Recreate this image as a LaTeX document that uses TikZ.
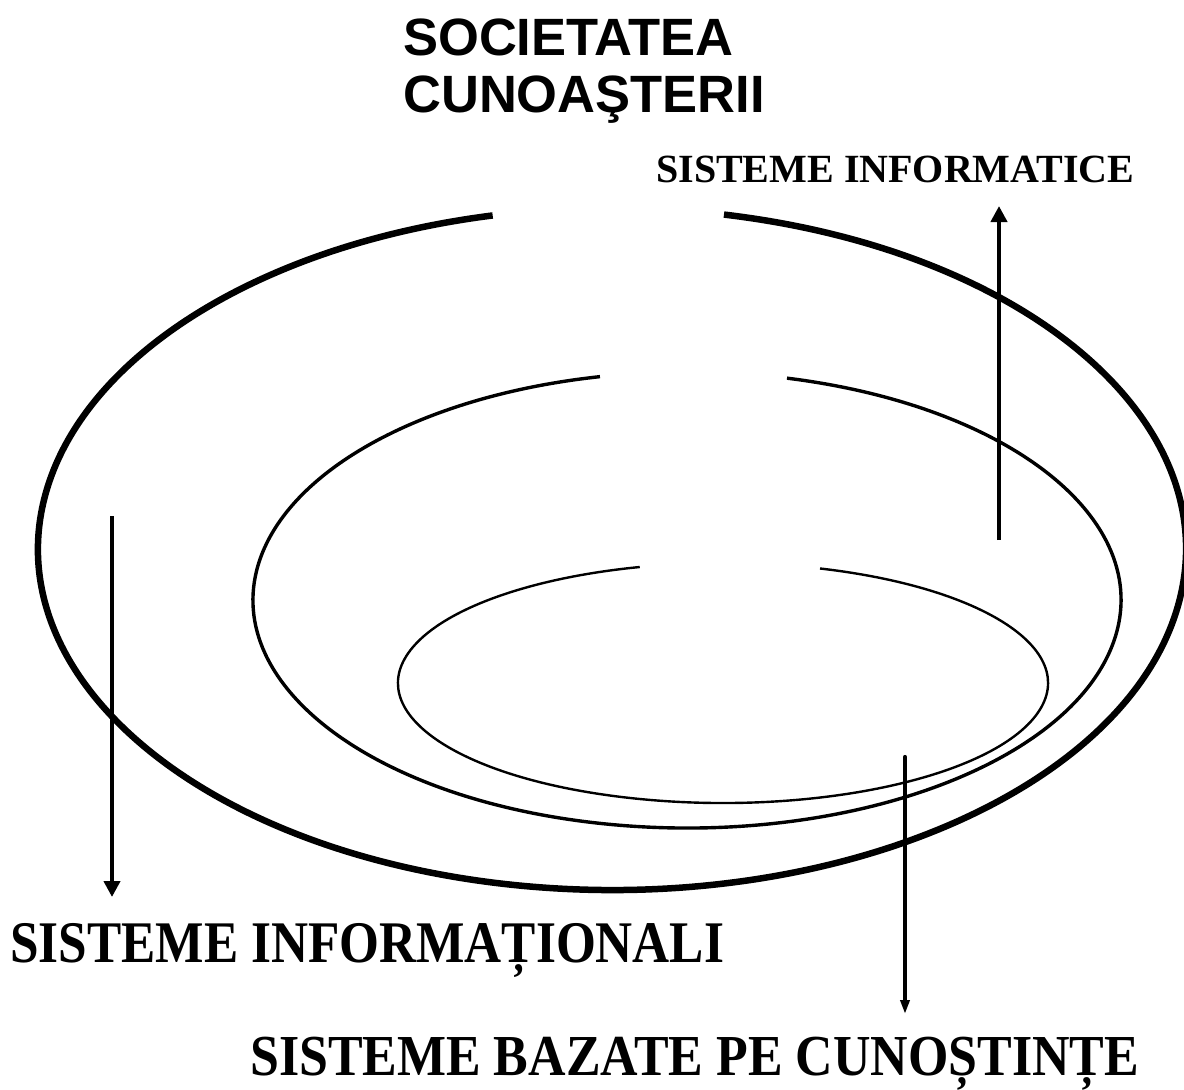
\documentclass[tikz,border=0pt]{standalone}
\usepackage{fontspec}
\newfontfamily\hsans{Liberation Sans}
\newfontfamily\tserif{Liberation Serif}
\usetikzlibrary{arrows.meta}
\begin{document}
\begin{tikzpicture}[x=1pt,y=-1pt,
  ringA/.style={line width=6.5pt},
  ringB/.style={line width=3.4pt},
  ringC/.style={line width=2.4pt},
  arr/.style={line width=4.2pt, -{Triangle[width=16pt,length=16pt]}},
  arrthin/.style={line width=4.2pt, line cap=round, -{Triangle[width=9pt,length=14pt]}},
  lbl/.style={inner sep=0pt, anchor=base west}]
\useasboundingbox (0,0) rectangle (1184,1090);

% rings (open at the top)
\draw[ringA] (612,549) ++(-78.75:574 and 341)
  arc[start angle=-78.75, end angle=258, x radius=574, y radius=341];
\draw[ringB] (687,600) ++(-76.68:434 and 228)
  arc[start angle=-76.68, end angle=258.43, x radius=434, y radius=228];
\draw[ringC] (723,683) ++(-72.63:325 and 120)
  arc[start angle=-72.63, end angle=255.16, x radius=325, y radius=120];

% labels
\node[lbl, font=\hsans\bfseries\fontsize{52.5}{57}\selectfont, align=left] (soc) at (403,112) {SOCIETATEA\\CUNOAŞTERII};
\node[lbl, font=\tserif\bfseries\fontsize{40}{46}\selectfont] (sinf) at (656,182) {SISTEME INFORMATICE};
\node[lbl, font=\tserif\bfseries\fontsize{59}{66}\selectfont] (sinfl) at (10,962) {\resizebox{714pt}{\height}{SISTEME INFORMAȚIONALI}};
\node[lbl, font=\tserif\bfseries\fontsize{58}{66}\selectfont] (sbaz) at (250,1075) {\resizebox{889pt}{\height}{SISTEME BAZATE PE CUNOȘTINȚE}};

% arrows
\coordinate (a1s) at (112,516);
\coordinate (a1e) at (112,897);
\coordinate (a2s) at (999,540);
\coordinate (a2e) at (999,206);
\coordinate (a3s) at (905,757);
\coordinate (a3e) at (905,1014);
\draw[arr] (a1s) -- (a1e);
\draw[arr] (a2s) -- (a2e);
\draw[arrthin] (a3s) -- (a3e);
\end{tikzpicture}
\end{document}
